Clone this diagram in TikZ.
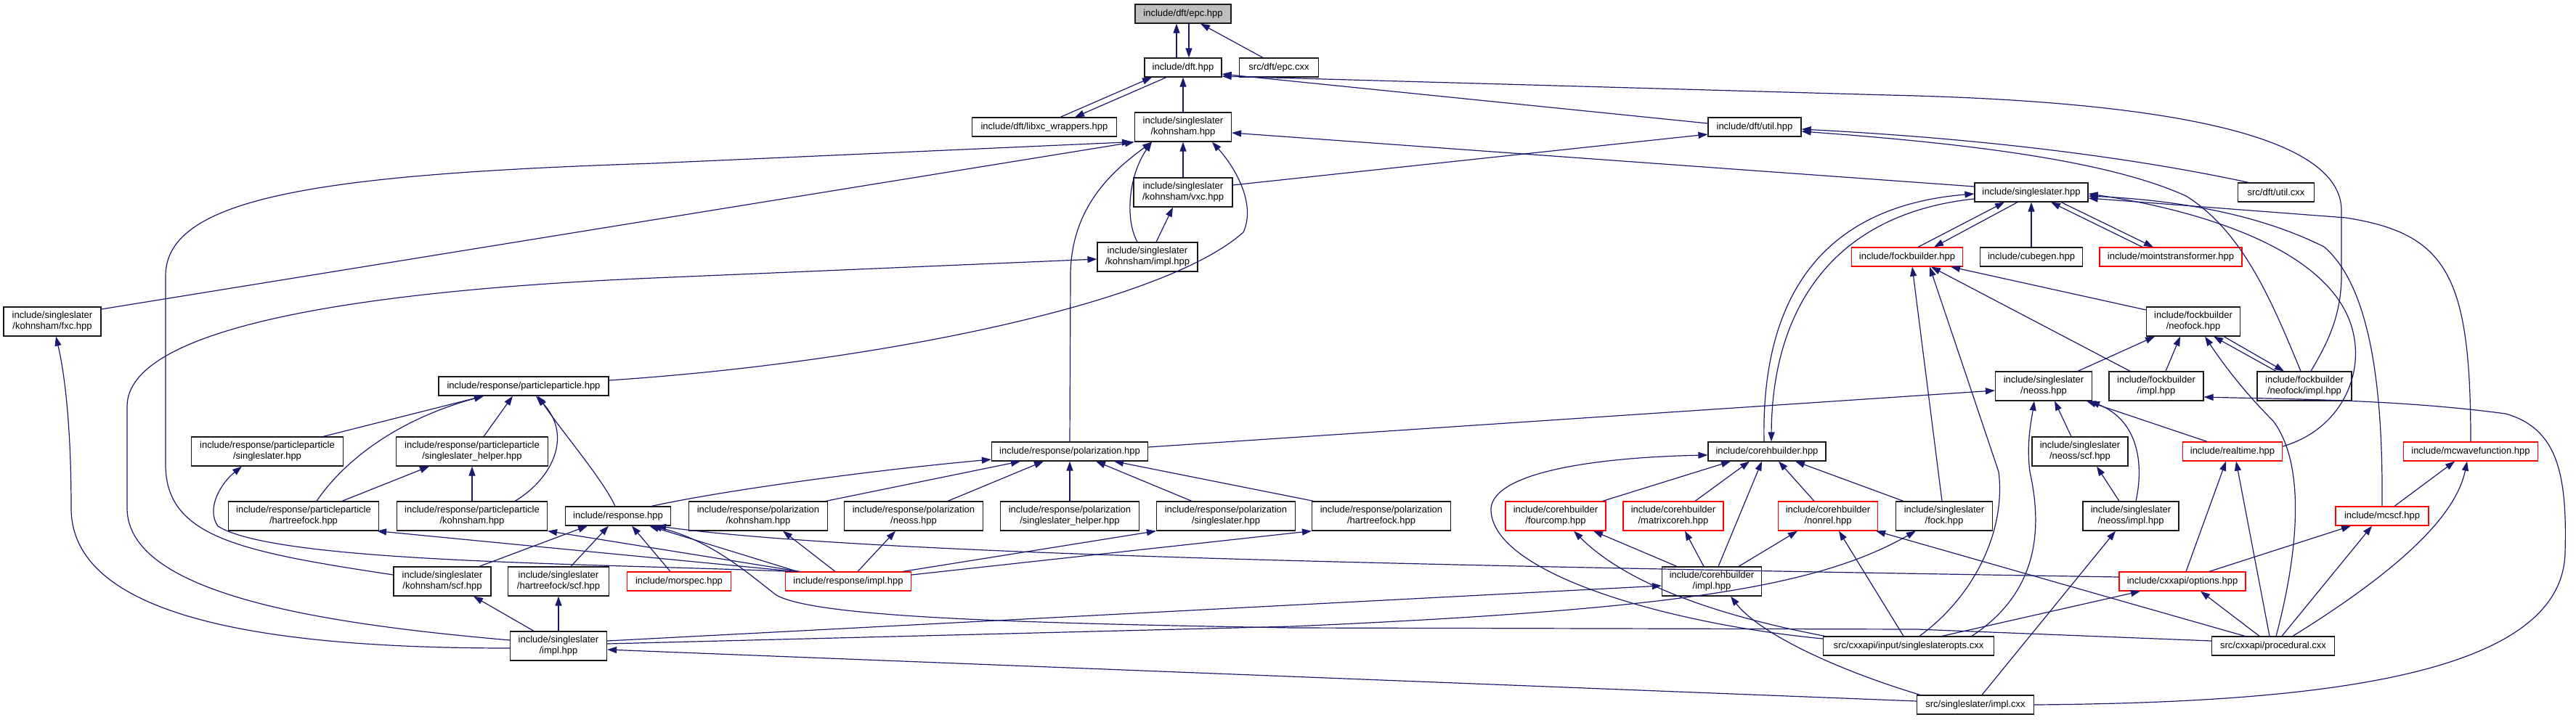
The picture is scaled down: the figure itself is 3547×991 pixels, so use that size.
\documentclass[tikz,border=0pt]{standalone}
\usepackage{fontspec}
\setmainfont{Liberation Sans}
\usepackage{xcolor}
\definecolor{cEdge}{HTML}{191970}
\definecolor{cRoot}{HTML}{BFBFBF}
\definecolor{cFrame}{HTML}{1A1A1A}
\definecolor{cTrunc}{HTML}{FF0000}
\usetikzlibrary{arrows.meta}
\newcommand{\nodefont}{\fontsize{13}{15}\selectfont}
\tikzset{
  node-box/.style={draw=cFrame,line width=1.2pt,fill=white,inner sep=0pt,
    minimum height=26pt,align=center,font=\nodefont},
  node-two/.style={minimum height=40pt},
  node-root/.style={fill=cRoot},
  node-trunc/.style={draw=cTrunc},
  bw/.style={minimum width=#1pt},
  arrow/.style={-{Triangle[length=13pt,width=9pt]},line width=1.2pt,draw=cEdge},
}

\begin{document}
\begin{tikzpicture}[x=1pt,y=-1pt]
  \useasboundingbox (0,0) rectangle (3547,991);
  % files
  \node[node-box,node-root,bw=132]          (epc)        at (1629,19)  {include/dft/epc.hpp};
  \node[node-box,bw=106]                    (dft)        at (1629,93)  {include/dft.hpp};
  \node[node-box,bw=109]                    (epccxx)     at (1761,93)  {src/dft/epc.cxx};
  \node[node-box,bw=199]                    (libxc)      at (1438,175) {include/dft/libxc\_wrappers.hpp};
  \node[node-box,node-two,bw=133]           (kohnsham)   at (1629,175) {include/singleslater\\/kohnsham.hpp};
  \node[node-box,bw=128]                    (dftutil)    at (2416,175) {include/dft/util.hpp};
  \node[node-box,node-two,bw=136]           (vxc)        at (1629,265) {include/singleslater\\/kohnsham/vxc.hpp};
  \node[node-box,bw=156]                    (sshpp)      at (2797,265) {include/singleslater.hpp};
  \node[node-box,bw=105]                    (srcdftutil) at (3134,265) {src/dft/util.cxx};
  \node[node-box,node-two,bw=138]           (ksimpl)     at (1580,354) {include/singleslater\\/kohnsham/impl.hpp};
  \node[node-box,node-trunc,bw=153]         (fockbuilder) at (2626,354) {include/fockbuilder.hpp};
  \node[node-box,bw=141]                    (cubegen)    at (2797,354) {include/cubegen.hpp};
  \node[node-box,node-trunc,bw=196]         (moints)     at (2989,354) {include/mointstransformer.hpp};
  \node[node-box,node-two,bw=134]           (fxc)        at (72,443)   {include/singleslater\\/kohnsham/fxc.hpp};
  \node[node-box,node-two,bw=129]           (neofock)    at (3020,443) {include/fockbuilder\\/neofock.hpp};
  \node[node-box,bw=234]                    (partpart)   at (721,532)  {include/response/particleparticle.hpp};
  \node[node-box,node-two,bw=133]           (neoss)      at (2814,532) {include/singleslater\\/neoss.hpp};
  \node[node-box,node-two,bw=130]           (fbimpl)     at (2969,532) {include/fockbuilder\\/impl.hpp};
  \node[node-box,node-two,bw=130]           (neofockimpl) at (3173,532) {include/fockbuilder\\/neofock/impl.hpp};
  \node[node-box,node-two,bw=209]           (ppss)       at (368,622)  {include/response/particleparticle\\/singleslater.hpp};
  \node[node-box,node-two,bw=209]           (ppsshelper) at (650,622)  {include/response/particleparticle\\/singleslater\_helper.hpp};
  \node[node-box,bw=215]                    (polar)      at (1473,622) {include/response/polarization.hpp};
  \node[node-box,bw=162]                    (corehb)     at (2433,622) {include/corehbuilder.hpp};
  \node[node-box,node-two,bw=132]           (neossscf)   at (2864,622) {include/singleslater\\/neoss/scf.hpp};
  \node[node-box,node-trunc,bw=137]         (realtime)   at (3074,622) {include/realtime.hpp};
  \node[node-box,node-trunc,bw=185]         (mcwave)     at (3402,622) {include/mcwavefunction.hpp};
  \node[node-box,node-two,bw=207]           (pphf)       at (418,711)  {include/response/particleparticle\\/hartreefock.hpp};
  \node[node-box,node-two,bw=207]           (ppks)       at (650,711)  {include/response/particleparticle\\/kohnsham.hpp};
  \node[node-box,bw=145]                    (response)   at (851,711)  {include/response.hpp};
  \node[node-box,node-two,bw=191]           (polks)      at (1044,711) {include/response/polarization\\/kohnsham.hpp};
  \node[node-box,node-two,bw=191]           (polneoss)   at (1258,711) {include/response/polarization\\/neoss.hpp};
  \node[node-box,node-two,bw=191]           (polsshelper) at (1473,711) {include/response/polarization\\/singleslater\_helper.hpp};
  \node[node-box,node-two,bw=191]           (polss)      at (1688,711) {include/response/polarization\\/singleslater.hpp};
  \node[node-box,node-two,bw=191]           (polhf)      at (1902,711) {include/response/polarization\\/hartreefock.hpp};
  \node[node-box,node-two,node-trunc,bw=138] (fourcomp)  at (2142,711) {include/corehbuilder\\/fourcomp.hpp};
  \node[node-box,node-two,node-trunc,bw=138] (matrixcoreh) at (2304,711) {include/corehbuilder\\/matrixcoreh.hpp};
  \node[node-box,node-two,node-trunc,bw=137] (nonrel)    at (2517,711) {include/corehbuilder\\/nonrel.hpp};
  \node[node-box,node-two,bw=133]           (fock)       at (2677,711) {include/singleslater\\/fock.hpp};
  \node[node-box,node-two,bw=132]           (neossimpl)  at (2934,711) {include/singleslater\\/neoss/impl.hpp};
  \node[node-box,node-trunc,bw=128]         (mcscf)      at (3280,711) {include/mcscf.hpp};
  \node[node-box,node-two,bw=134]           (ksscf)      at (609,801)  {include/singleslater\\/kohnsham/scf.hpp};
  \node[node-box,node-two,bw=139]           (hfscf)      at (769,801)  {include/singleslater\\/hartreefock/scf.hpp};
  \node[node-box,node-trunc,bw=143]         (morspec)    at (935,801)  {include/morspec.hpp};
  \node[node-box,node-trunc,bw=173]         (respimpl)   at (1168,801) {include/response/impl.hpp};
  \node[node-box,node-two,bw=137]           (cbimpl)     at (2357,801) {include/corehbuilder\\/impl.hpp};
  \node[node-box,node-trunc,bw=174]         (options)    at (3005,801) {include/cxxapi/options.hpp};
  \node[node-box,node-two,bw=133]           (ssimpl)     at (769,890)  {include/singleslater\\/impl.hpp};
  \node[node-box,bw=235]                    (ssopts)     at (2628,890) {src/cxxapi/input/singleslateropts.cxx};
  \node[node-box,bw=169]                    (procedural) at (3130,890) {src/cxxapi/procedural.cxx};
  \node[node-box,bw=161]                    (srcssimpl)  at (2720,971) {src/singleslater/impl.cxx};

  % dft part
  \draw[arrow] ([xshift=-9]dft.north) -- ([xshift=-9]epc.south);
  \draw[arrow] ([xshift=8]epc.south) -- ([xshift=8]dft.north);
  \draw[arrow] ([xshift=-22]epccxx.north) -- ([xshift=24]epc.south);
  \draw[arrow] ([xshift=22]libxc.north) -- ([xshift=-43]dft.south);
  \draw[arrow] ([xshift=-23]dft.south) -- ([xshift=42]libxc.north);
  \draw[arrow] (kohnsham.north) -- (dft.south);
  \draw[arrow] ([yshift=5]dftutil.west) -- ([yshift=-9]dft.east);
  \draw[arrow] ([xshift=9]neofockimpl.north) .. controls (3200,480) and (3224,440) .. (3224,380) -- (3224,290)
    .. controls (3224,190) and (3000,140) .. (2600,131) -- ([yshift=-12]dft.east);
  \draw[arrow] ([yshift=10]vxc.east) -- ([yshift=-10]dftutil.west);
  \draw[arrow] ([xshift=-38]srcdftutil.north) .. controls (2950,220) and (2750,192) .. ([yshift=-3]dftutil.east);
  \draw[arrow] ([xshift=-5]neofockimpl.north) .. controls (3130,420) and (3090,320) .. (3010,270)
    .. controls (2900,220) and (2700,197) .. ([yshift=-6]dftutil.east);

  % kohnsham part
  \draw[arrow] (vxc.north) -- (kohnsham.south);
  \draw[arrow] ([yshift=17]fxc.east) -- (kohnsham.south west);
  \draw[arrow] ([yshift=9]ksscf.west) .. controls (330,760) and (228,740) .. (228,640) -- (228,380)
    .. controls (228,270) and (450,240) .. (900,225) -- ([xshift=-4]kohnsham.south west);
  \draw[arrow] ([xshift=-14]ksimpl.north) .. controls (1548,300) and (1555,240) .. ([xshift=-43]kohnsham.south);
  \draw[arrow] (polar.north) -- (1474,380) .. controls (1474,280) and (1540,230) .. ([xshift=-43]kohnsham.south);
  \draw[arrow] ([yshift=8]partpart.east) .. controls (1200,500) and (1600,420) .. (1712,320)
    .. controls (1730,280) and (1700,230) .. ([xshift=40]kohnsham.south);
  \draw[arrow] ([yshift=8]sshpp.west) -- ([yshift=-8]kohnsham.east);
  \draw[arrow] ([xshift=12]ksimpl.north) -- ([xshift=-14]vxc.south);

  % singleslater.hpp
  \draw[arrow] ([xshift=-4]corehb.north) .. controls (2425,420) and (2500,285) .. ([yshift=-2]sshpp.west);
  \draw[arrow] ([yshift=-9]sshpp.west) .. controls (2520,295) and (2440,430) .. ([xshift=6]corehb.north);
  \draw[arrow] ([xshift=15]fockbuilder.north) -- ([xshift=-37]sshpp.south);
  \draw[arrow] ([xshift=-19]sshpp.south) -- ([xshift=37]fockbuilder.north);
  \draw[arrow] (cubegen.north) -- (sshpp.south);
  \draw[arrow] ([xshift=-39]moints.north) -- ([xshift=27]sshpp.south);
  \draw[arrow] ([xshift=41]sshpp.south) -- ([xshift=-24]moints.north);
  \draw[arrow] ([yshift=7]realtime.east) .. controls (3230,590) and (3265,500) .. (3230,430)
    .. controls (3180,330) and (3000,285) .. ([yshift=-2]sshpp.east);
  \draw[arrow] (mcscf.north) .. controls (3281,560) and (3270,400) .. (3200,340)
    .. controls (3100,290) and (2980,275) .. ([yshift=-5]sshpp.east);
  \draw[arrow] (mcwave.north) .. controls (3402,380) and (3370,322) .. (3230,300) -- ([yshift=-8]sshpp.east);

  % fockbuilder
  \draw[arrow] ([xshift=-3]fock.north) -- ([xshift=7]fockbuilder.south);
  \draw[arrow] ([xshift=15]ssopts.north) .. controls (2720,820) and (2762,730) .. (2752,650) -- ([xshift=31]fockbuilder.south);
  \draw[arrow] ([xshift=-36]fbimpl.north) -- ([xshift=33]fockbuilder.south);
  \draw[arrow] ([yshift=16]neofock.west) -- ([xshift=60]fockbuilder.south);

  % corehbuilder
  \draw[arrow] ([yshift=10]ssopts.west) .. controls (2300,860) and (2050,790) .. (2053,700)
    .. controls (2058,650) and (2200,630) .. ([yshift=-5]corehb.west);
  \draw[arrow] ([xshift=-5]fourcomp.north east) -- ([xshift=-50]corehb.south);
  \draw[arrow] ([xshift=30]matrixcoreh.north) -- ([xshift=-24]corehb.south);
  \draw[arrow] ([xshift=9]cbimpl.north) -- ([xshift=-7]corehb.south);
  \draw[arrow] ([xshift=-19]nonrel.north) -- ([xshift=16]corehb.south);
  \draw[arrow] ([xshift=11]fock.north west) -- ([xshift=39]corehb.south);
  \draw[arrow] ([xshift=3]ssopts.north west) .. controls (2400,855) and (2250,815) .. ([xshift=25]fourcomp.south);
  \draw[arrow] ([xshift=-48]cbimpl.north) -- ([xshift=52]fourcomp.south);
  \draw[arrow] ([xshift=-11]cbimpl.north) -- ([xshift=16]matrixcoreh.south);
  \draw[arrow] ([xshift=37]cbimpl.north) -- ([xshift=-42]nonrel.south);
  \draw[arrow] ([xshift=-7]ssopts.north) -- ([xshift=15]nonrel.south);
  \draw[arrow] ([xshift=-39]procedural.north) -- ([xshift=-3]nonrel.south east);
  \draw[arrow] ([yshift=7]ssimpl.east) -- ([yshift=-6]cbimpl.west);
  \draw[arrow] ([yshift=3]ssimpl.east) -- (1780,863) .. controls (2300,840) and (2500,810) .. ([xshift=28]fock.south west);
  \draw[arrow] ([yshift=5]srcssimpl.west) -- ([yshift=-5]ssimpl.east);
  \draw[arrow] ([xshift=5]srcssimpl.north west) .. controls (2520,920) and (2420,870) .. ([xshift=26]cbimpl.south);
  \draw[arrow] ([xshift=9]srcssimpl.north) -- ([xshift=-21]neossimpl.south);
  \draw[arrow] (srcssimpl.east) .. controls (3200,968) and (3530,930) .. (3532,760)
    .. controls (3535,650) and (3520,590) .. (3450,570) .. controls (3300,550) and (3150,550) .. ([yshift=-15]fbimpl.east);

  % neoss / neofock
  \draw[arrow] ([xshift=-16]neossimpl.north) -- ([xshift=23]neossscf.south);
  \draw[arrow] ([xshift=7]neossimpl.north) .. controls (2952,640) and (2945,580) .. ([xshift=-3]neoss.south east);
  \draw[arrow] ([xshift=-12]neossscf.north) -- ([xshift=15]neoss.south);
  \draw[arrow] ([xshift=-35]realtime.north) -- ([xshift=-8]neoss.south east);
  \draw[arrow] ([xshift=87]ssopts.north) .. controls (2800,820) and (2815,740) .. (2795,650)
    .. controls (2790,610) and (2797,580) .. ([xshift=-13]neoss.south);
  \draw[arrow] ([xshift=47]neoss.north) -- ([xshift=-53]neofock.south);
  \draw[arrow] ([xshift=13]fbimpl.north) -- ([xshift=-18]neofock.south);
  \draw[arrow] ([xshift=-39]neofockimpl.north) -- ([xshift=28]neofock.south);
  \draw[arrow] ([xshift=42]neofock.south) -- ([xshift=-28]neofockimpl.north);
  \draw[arrow] ([xshift=4]procedural.north) .. controls (3165,760) and (3175,640) .. (3130,580)
    .. controls (3090,540) and (3060,500) .. ([xshift=16]neofock.south);
  \draw[arrow] ([yshift=6]polar.east) -- ([yshift=-6]neoss.west);

  % cxxapi
  \draw[arrow] ([xshift=5]options.north) -- ([xshift=-9]realtime.south);
  \draw[arrow] ([xshift=-5]procedural.north) -- ([xshift=5]realtime.south);
  \draw[arrow] ([xshift=17]mcscf.north) -- ([xshift=-22]mcwave.south);
  \draw[arrow] ([xshift=27]procedural.north) .. controls (3280,800) and (3380,720) .. ([xshift=-5]mcwave.south);
  \draw[arrow] ([xshift=37]options.north) -- ([xshift=-43]mcscf.south);
  \draw[arrow] ([xshift=12]procedural.north) -- ([xshift=-14]mcscf.south);
  \draw[arrow] ([xshift=46]ssopts.north) -- ([xshift=-58]options.south);
  \draw[arrow] ([xshift=-19]procedural.north) -- ([xshift=25]options.south);
  \draw[arrow] ([yshift=6]options.west) .. controls (2000,780) and (1200,765) .. ([xshift=-20]response.south east);
  \draw[arrow] ([yshift=7]procedural.west) -- (2640,867) -- (1780,865) .. controls (1350,858) and (1120,848) .. (1069,820)
    .. controls (1030,790) and (980,745) .. ([xshift=-26]response.south east);

  % response
  \draw[arrow] ([xshift=17]respimpl.north west) -- ([xshift=-30]response.south east);
  \draw[arrow] ([xshift=10]respimpl.north west) .. controls (800,776) and (380,775) .. (300,725)
    .. controls (283,700) and (305,665) .. ([xshift=-35]ppss.south);
  \draw[arrow] ([xshift=14]respimpl.north west) -- ([xshift=-3]pphf.south east);
  \draw[arrow] ([xshift=20]respimpl.north west) -- (ppks.south east);
  \draw[arrow] ([xshift=-18]respimpl.north) -- ([xshift=34]polks.south);
  \draw[arrow] ([xshift=13]respimpl.north) -- ([xshift=-25]polneoss.south);
  \draw[arrow] ([xshift=-12]respimpl.north east) -- (polss.south west);
  \draw[arrow] ([yshift=9]respimpl.east) -- (polhf.south west);
  \draw[arrow] ([xshift=-4]response.north) .. controls (830,660) and (770,590) .. ([xshift=20]partpart.south);
  \draw[arrow] ([xshift=59]ppks.north) .. controls (760,660) and (790,600) .. ([xshift=17]partpart.south);
  \draw[arrow] ([xshift=16]ppsshelper.north) -- ([xshift=-15]partpart.south);
  \draw[arrow] ([xshift=77]ppss.north) -- ([xshift=-55]partpart.south);
  \draw[arrow] ([xshift=18]pphf.north) .. controls (470,640) and (540,580) .. ([xshift=-55]partpart.south);
  \draw[arrow] ([xshift=53]pphf.north) -- ([xshift=-59]ppsshelper.south);
  \draw[arrow] (ppks.north) -- (ppsshelper.south);
  \draw[arrow] ([xshift=46]response.north) .. controls (1000,675) and (1200,648) .. ([yshift=-11]polar.west);
  \draw[arrow] ([xshift=-3]polks.north east) -- ([xshift=-68]polar.south);
  \draw[arrow] ([xshift=47]polneoss.north) -- ([xshift=-36]polar.south);
  \draw[arrow] (polsshelper.north) -- (polar.south);
  \draw[arrow] ([xshift=-47]polss.north) -- ([xshift=36]polar.south);
  \draw[arrow] ([xshift=3]polhf.north west) -- ([xshift=61]polar.south);
  \draw[arrow] ([xshift=51]ksscf.north) -- ([xshift=-42]response.south);
  \draw[arrow] ([xshift=17]hfscf.north) -- ([xshift=-13]response.south);
  \draw[arrow] ([xshift=-12]morspec.north) -- ([xshift=19]response.south);

  % singleslater/impl.hpp
  \draw[arrow] ([xshift=-34]ssimpl.north) -- ([xshift=43]ksscf.south);
  \draw[arrow] (ssimpl.north) -- (hfscf.south);
  \draw[arrow] ([yshift=-3]ssimpl.west) .. controls (400,893) and (98,860) .. (98,700)
    .. controls (98,580) and (88,510) .. ([xshift=5]fxc.south);
  \draw[arrow] ([yshift=8]ssimpl.west) .. controls (450,860) and (175,820) .. (175,700) -- (175,560)
    .. controls (175,450) and (500,400) .. (900,383) -- ([yshift=-3]ksimpl.west);
\end{tikzpicture}
\end{document}
